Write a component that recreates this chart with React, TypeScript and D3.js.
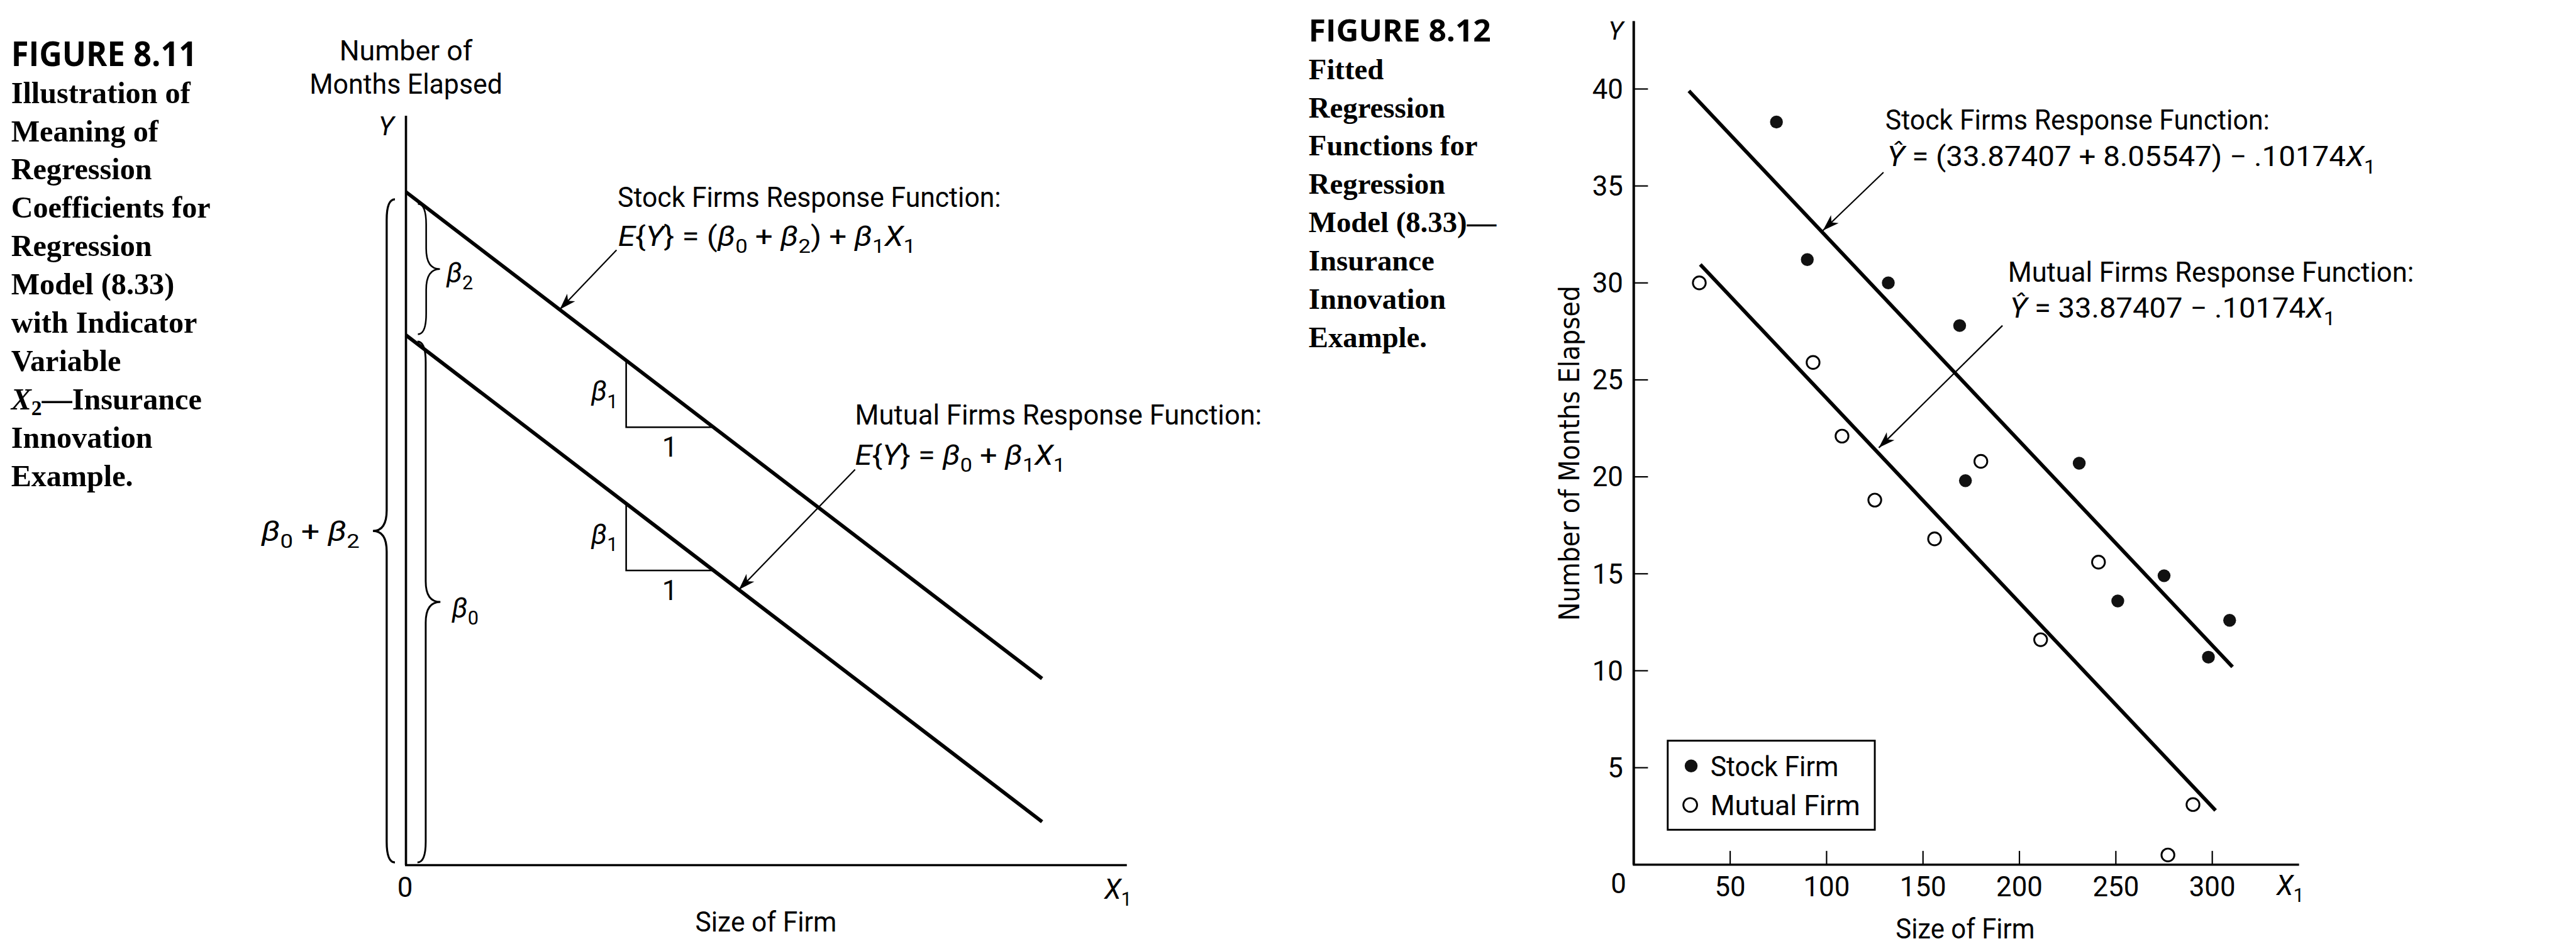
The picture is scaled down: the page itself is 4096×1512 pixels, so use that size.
import React from "react";
import * as d3 from "d3";

// whole drawing is laid out in the reference's 5610 x 2071 space and scaled by the viewBox
const W = 5610;
const H = 2071;

// ---------- Figure 8.11 : the model, in its own units ----------
const beta0 = 7.85;
const beta2 = 2.12;
const beta1 = -0.99;
const responseX = [0, 7.28];
const slopeTriangleX = 2.52;
const conceptXMax = 8.25;
const conceptYMax = 11.1;
// arrows [fromX, fromY, toX, toY]
const stockArrowL = [2.41, 9.11, 1.76, 8.23];
const mutualArrowL = [5.14, 5.86, 3.81, 4.08];

// ---------- Figure 8.12 : insurance innovation data ----------
const stockSize = [74, 90, 132, 169, 172, 231, 275, 251, 309, 298];
const stockMonths = [38.3, 31.2, 30.0, 27.8, 19.8, 20.7, 14.9, 13.6, 12.6, 10.7];
const mutualSize = [34, 93, 108, 125, 180, 156, 241, 211, 290, 277];
const mutualMonths = [30.0, 25.9, 22.1, 18.8, 20.8, 16.8, 15.6, 11.6, 3.1, 0.5];
const stockFit: [number, number][] = [[28.6, 39.9], [310.5, 10.2]];
const mutualFit: [number, number][] = [[34.5, 30.95], [301.7, 2.8]];
const stockArrowR = [129.5, 35.7, 98.1, 32.7];
const mutualArrowR = [191.2, 27.8, 127.1, 21.5];
const yTicks = [5, 10, 15, 20, 25, 30, 35, 40];
const xTicks = [50, 100, 150, 200, 250, 300];

const caption811 = ["Illustration of", "Meaning of", "Regression", "Coefficients for", "Regression",
  "Model (8.33)", "with Indicator", "Variable", "X2—Insurance", "Innovation", "Example."];
const caption812 = ["Fitted", "Regression", "Functions for", "Regression", "Model (8.33)—",
  "Insurance", "Innovation", "Example."];

const SANS = "Roboto, 'Liberation Sans', sans-serif";
const SERIF = "'Liberation Serif', 'Times New Roman', serif";

type Seg = { t: string; i?: boolean; s?: boolean };

function Rich(props: { segs: Seg[]; x: number; y: number; size: number; len?: number; anchor?: string }) {
  const { segs, x, y, size, len, anchor } = props;
  let shift = 0;
  return (
    <text x={x} y={y} fontSize={size} fontFamily={SANS} textAnchor={anchor || "start"}
      textLength={len} lengthAdjust={len ? "spacingAndGlyphs" : undefined}>
      {segs.map((g, k) => {
        const want = g.s ? size * 0.26 : 0;
        const dy = want - shift;
        shift = want;
        return (
          <tspan key={k} dy={dy ? dy : undefined} fontStyle={g.i ? "italic" : undefined}
            fontSize={g.s ? size * 0.7 : undefined}>{g.t}</tspan>
        );
      })}
    </text>
  );
}

function Label(props: { x: number; y: number; size?: number; len?: number; anchor?: string; children: any; family?: string; italic?: boolean }) {
  const { x, y, size = 60, len, anchor = "start", children, family = SANS, italic } = props;
  return (
    <text x={x} y={y} fontSize={size} fontFamily={family} textAnchor={anchor}
      fontStyle={italic ? "italic" : undefined}
      textLength={len} lengthAdjust={len ? "spacingAndGlyphs" : undefined}>{children}</text>
  );
}

function bracePath(x: number, y1: number, y2: number, dir: number, tip: number, curl: number) {
  const ym = (y1 + y2) / 2;
  const r = 45;
  return `M${x - dir * curl},${y1} Q${x},${y1} ${x},${y1 + r} L${x},${ym - r} Q${x},${ym} ${x + dir * tip},${ym}` +
    ` Q${x},${ym} ${x},${ym + r} L${x},${y2 - r} Q${x},${y2} ${x - dir * curl},${y2}`;
}

function arrowHead(x1: number, y1: number, x2: number, y2: number, len = 36, half = 12) {
  const dx = x2 - x1, dy = y2 - y1, L = Math.hypot(dx, dy);
  const ux = dx / L, uy = dy / L, nx = -uy, ny = ux;
  const bx = x2 - ux * len, by = y2 - uy * len;
  const mx = x2 - ux * len * 0.72, my = y2 - uy * len * 0.72;
  return `M${x2},${y2} L${bx + nx * half},${by + ny * half} L${mx},${my} L${bx - nx * half},${by - ny * half} Z`;
}

function Arrow(props: { a: number[]; sx: (v: number) => number; sy: (v: number) => number }) {
  const { a, sx, sy } = props;
  const x1 = sx(a[0]), y1 = sy(a[1]), x2 = sx(a[2]), y2 = sy(a[3]);
  return (
    <g>
      <line x1={x1} y1={y1} x2={x2} y2={y2} stroke="#000" strokeWidth={3} />
      <path d={arrowHead(x1, y1, x2, y2)} fill="#000" />
    </g>
  );
}

export default function App() {
  // ----- left figure scales -----
  const xL = d3.scaleLinear().domain([0, conceptXMax]).range([884, 2454]);
  const yL = d3.scaleLinear().domain([0, conceptYMax]).range([1884, 252]);
  const lineL = d3.line<[number, number]>().x(d => xL(d[0])).y(d => yL(d[1]));
  const stockL: [number, number][] = responseX.map(x => [x, beta0 + beta2 + beta1 * x]);
  const mutualL: [number, number][] = responseX.map(x => [x, beta0 + beta1 * x]);
  const triangles = [beta0 + beta2, beta0].map(b0 => {
    const top = b0 + beta1 * slopeTriangleX;
    return {
      x0: xL(slopeTriangleX), x1: xL(slopeTriangleX + 1),
      yTop: yL(top), yBot: yL(top + beta1),
    };
  });

  // ----- right figure scales -----
  const xR = d3.scaleLinear().domain([0, 345]).range([3558, 5007]);
  const yR = d3.scaleLinear().domain([0, 43.5]).range([1883, 46]);
  const lineR = d3.line<[number, number]>().x(d => xR(d[0])).y(d => yR(d[1]));

  const b = 1884;
  return (
    <svg width={4096} height={1512} viewBox={`0 0 ${W} ${H}`}
      style={{ position: "absolute", left: 0, top: 0, display: "block", background: "#fff" }}>
      <rect width={W} height={H} fill="#fff" />

      {/* ===== captions ===== */}
      <Label x={24} y={144} size={74} len={405} family="'Open Sans', sans-serif"><tspan fontWeight="bold">FIGURE 8.11</tspan></Label>
      {caption811.map((t, i) => (
        <text key={t + i} x={24} y={224 + i * 83.5} fontFamily={SERIF} fontWeight="bold" fontSize={66}>
          {t.startsWith("X2") ? (
            <>
              <tspan fontStyle="italic">X</tspan>
              <tspan dy={12} fontSize={46}>2</tspan>
              <tspan dy={-12}>{t.slice(2)}</tspan>
            </>
          ) : t}
        </text>
      ))}
      <Label x={2850} y={91} size={66} len={397} family="'Open Sans', sans-serif"><tspan fontWeight="bold">FIGURE 8.12</tspan></Label>
      {caption812.map((t, i) => (
        <text key={t + i} x={2850} y={172 + i * 83.5} fontFamily={SERIF} fontWeight="bold" fontSize={64}>{t}</text>
      ))}

      {/* ===== Figure 8.11 ===== */}
      <Label x={884} y={131} anchor="middle" len={290}>Number of</Label>
      <Label x={884} y={204} anchor="middle" len={420}>Months Elapsed</Label>
      <Label x={858} y={295} anchor="end" italic size={58}>Y</Label>

      <line x1={xL(0)} y1={yL(conceptYMax)} x2={xL(0)} y2={b} stroke="#000" strokeWidth={5} />
      <line x1={xL(0) - 2} y1={b} x2={xL(conceptXMax)} y2={b} stroke="#000" strokeWidth={5} />

      <path d={lineL(stockL) || ""} stroke="#000" strokeWidth={8} fill="none" />
      <path d={lineL(mutualL) || ""} stroke="#000" strokeWidth={8} fill="none" />

      {triangles.map((t, i) => (
        <g key={i}>
          <path d={`M${t.x0},${t.yTop} L${t.x0},${t.yBot} L${t.x1},${t.yBot}`} stroke="#000" strokeWidth={3.5} fill="none" />
          <Rich x={t.x0 - 18} y={(t.yTop + t.yBot) / 2 + 15} size={60} anchor="end"
            segs={[{ t: "β", i: true }, { t: "1", s: true }]} />
          <Label x={(t.x0 + t.x1) / 2} y={t.yBot + 64} anchor="middle">1</Label>
        </g>
      ))}

      {/* braces */}
      <path d={bracePath(842, yL(beta0 + beta2) + 16, b - 6, -1, 30, 18)} stroke="#000" strokeWidth={4.5} fill="none" />
      <path d={bracePath(928, yL(beta0 + beta2) + 26, yL(beta0) - 2, 1, 30, 18)} stroke="#000" strokeWidth={3.5} fill="none" />
      <path d={bracePath(927, yL(beta0) + 14, b - 6, 1, 32, 18)} stroke="#000" strokeWidth={4} fill="none" />
      <Rich x={569} y={1178} size={60} len={214}
        segs={[{ t: "β", i: true }, { t: "0", s: true }, { t: " + " }, { t: "β", i: true }, { t: "2", s: true }]} />
      <Rich x={972} y={615} size={60} segs={[{ t: "β", i: true }, { t: "2", s: true }]} />
      <Rich x={984} y={1345} size={60} segs={[{ t: "β", i: true }, { t: "0", s: true }]} />

      <Label x={882} y={1953} anchor="middle">0</Label>
      <Rich x={2405} y={1957} size={60} segs={[{ t: "X", i: true }, { t: "1", s: true }]} />
      <Label x={1668} y={2028} anchor="middle" len={308}>Size of Firm</Label>

      <Label x={1345} y={450} len={835}>Stock Firms Response Function:</Label>
      <Rich x={1346} y={535} size={60} len={648}
        segs={[{ t: "E", i: true }, { t: "{" }, { t: "Y", i: true }, { t: "} = (" }, { t: "β", i: true }, { t: "0", s: true },
          { t: " + " }, { t: "β", i: true }, { t: "2", s: true }, { t: ") + " }, { t: "β", i: true }, { t: "1", s: true },
          { t: "X", i: true }, { t: "1", s: true }]} />
      <Label x={1862} y={925} len={886}>Mutual Firms Response Function:</Label>
      <Rich x={1862} y={1012} size={60} len={458}
        segs={[{ t: "E", i: true }, { t: "{" }, { t: "Y", i: true }, { t: "} = " }, { t: "β", i: true }, { t: "0", s: true },
          { t: " + " }, { t: "β", i: true }, { t: "1", s: true }, { t: "X", i: true }, { t: "1", s: true }]} />
      <Arrow a={stockArrowL} sx={xL} sy={yL} />
      <Arrow a={mutualArrowL} sx={xL} sy={yL} />

      {/* ===== Figure 8.12 ===== */}
      <Label x={3535} y={86} anchor="end" italic size={56}>Y</Label>
      <text transform="translate(3439, 987) rotate(-90)" textAnchor="middle" fontFamily="'DejaVu Sans', sans-serif"
        fontSize={60} textLength={730} lengthAdjust="spacingAndGlyphs">Number of Months Elapsed</text>

      <line x1={xR(0)} y1={yR(43.5)} x2={xR(0)} y2={yR(0)} stroke="#000" strokeWidth={5.5} />
      <line x1={xR(0) - 2} y1={yR(0)} x2={xR(345)} y2={yR(0)} stroke="#000" strokeWidth={5} />
      {yTicks.map(t => (
        <g key={"y" + t}>
          <line x1={xR(0)} x2={xR(0) + 31} y1={yR(t)} y2={yR(t)} stroke="#000" strokeWidth={3} />
          <Label x={3535} y={yR(t) + 21} anchor="end">{t}</Label>
        </g>
      ))}
      {xTicks.map(t => (
        <g key={"x" + t}>
          <line x1={xR(t)} x2={xR(t)} y1={yR(0)} y2={yR(0) - 30} stroke="#000" strokeWidth={3} />
          <Label x={xR(t)} y={1952} anchor="middle">{t}</Label>
        </g>
      ))}
      <Label x={3525} y={1945} anchor="middle">0</Label>
      <Rich x={4958} y={1949} size={60} segs={[{ t: "X", i: true }, { t: "1", s: true }]} />
      <Label x={4280} y={2043} anchor="middle" len={303}>Size of Firm</Label>

      <path d={lineR(stockFit) || ""} stroke="#000" strokeWidth={8} fill="none" />
      <path d={lineR(mutualFit) || ""} stroke="#000" strokeWidth={8} fill="none" />

      {stockSize.map((x, i) => (
        <circle key={"s" + i} cx={xR(x)} cy={yR(stockMonths[i])} r={14} fill="#111" />
      ))}
      {mutualSize.map((x, i) => (
        <circle key={"m" + i} cx={xR(x)} cy={yR(mutualMonths[i])} r={14} fill="#fff" stroke="#000" strokeWidth={4} />
      ))}

      <Label x={4106} y={282} len={837}>Stock Firms Response Function:</Label>
      <Rich x={4110} y={362} size={60} len={1064}
        segs={[{ t: "Ŷ", i: true }, { t: " = (33.87407 + 8.05547) − .10174" }, { t: "X", i: true }, { t: "1", s: true }]} />
      <Label x={4373} y={613} len={884}>Mutual Firms Response Function:</Label>
      <Rich x={4377} y={692} size={60} len={709}
        segs={[{ t: "Ŷ", i: true }, { t: " = 33.87407 − .10174" }, { t: "X", i: true }, { t: "1", s: true }]} />
      <Arrow a={stockArrowR} sx={xR} sy={yR} />
      <Arrow a={mutualArrowR} sx={xR} sy={yR} />

      {/* legend */}
      <rect x={3632} y={1613} width={451} height={194} fill="#fff" stroke="#000" strokeWidth={4} />
      <circle cx={3683} cy={1668} r={14} fill="#111" />
      <circle cx={3681} cy={1753} r={15} fill="#fff" stroke="#000" strokeWidth={4} />
      <Label x={3725} y={1690} len={279}>Stock Firm</Label>
      <Label x={3725} y={1775} len={326}>Mutual Firm</Label>
    </svg>
  );
}
